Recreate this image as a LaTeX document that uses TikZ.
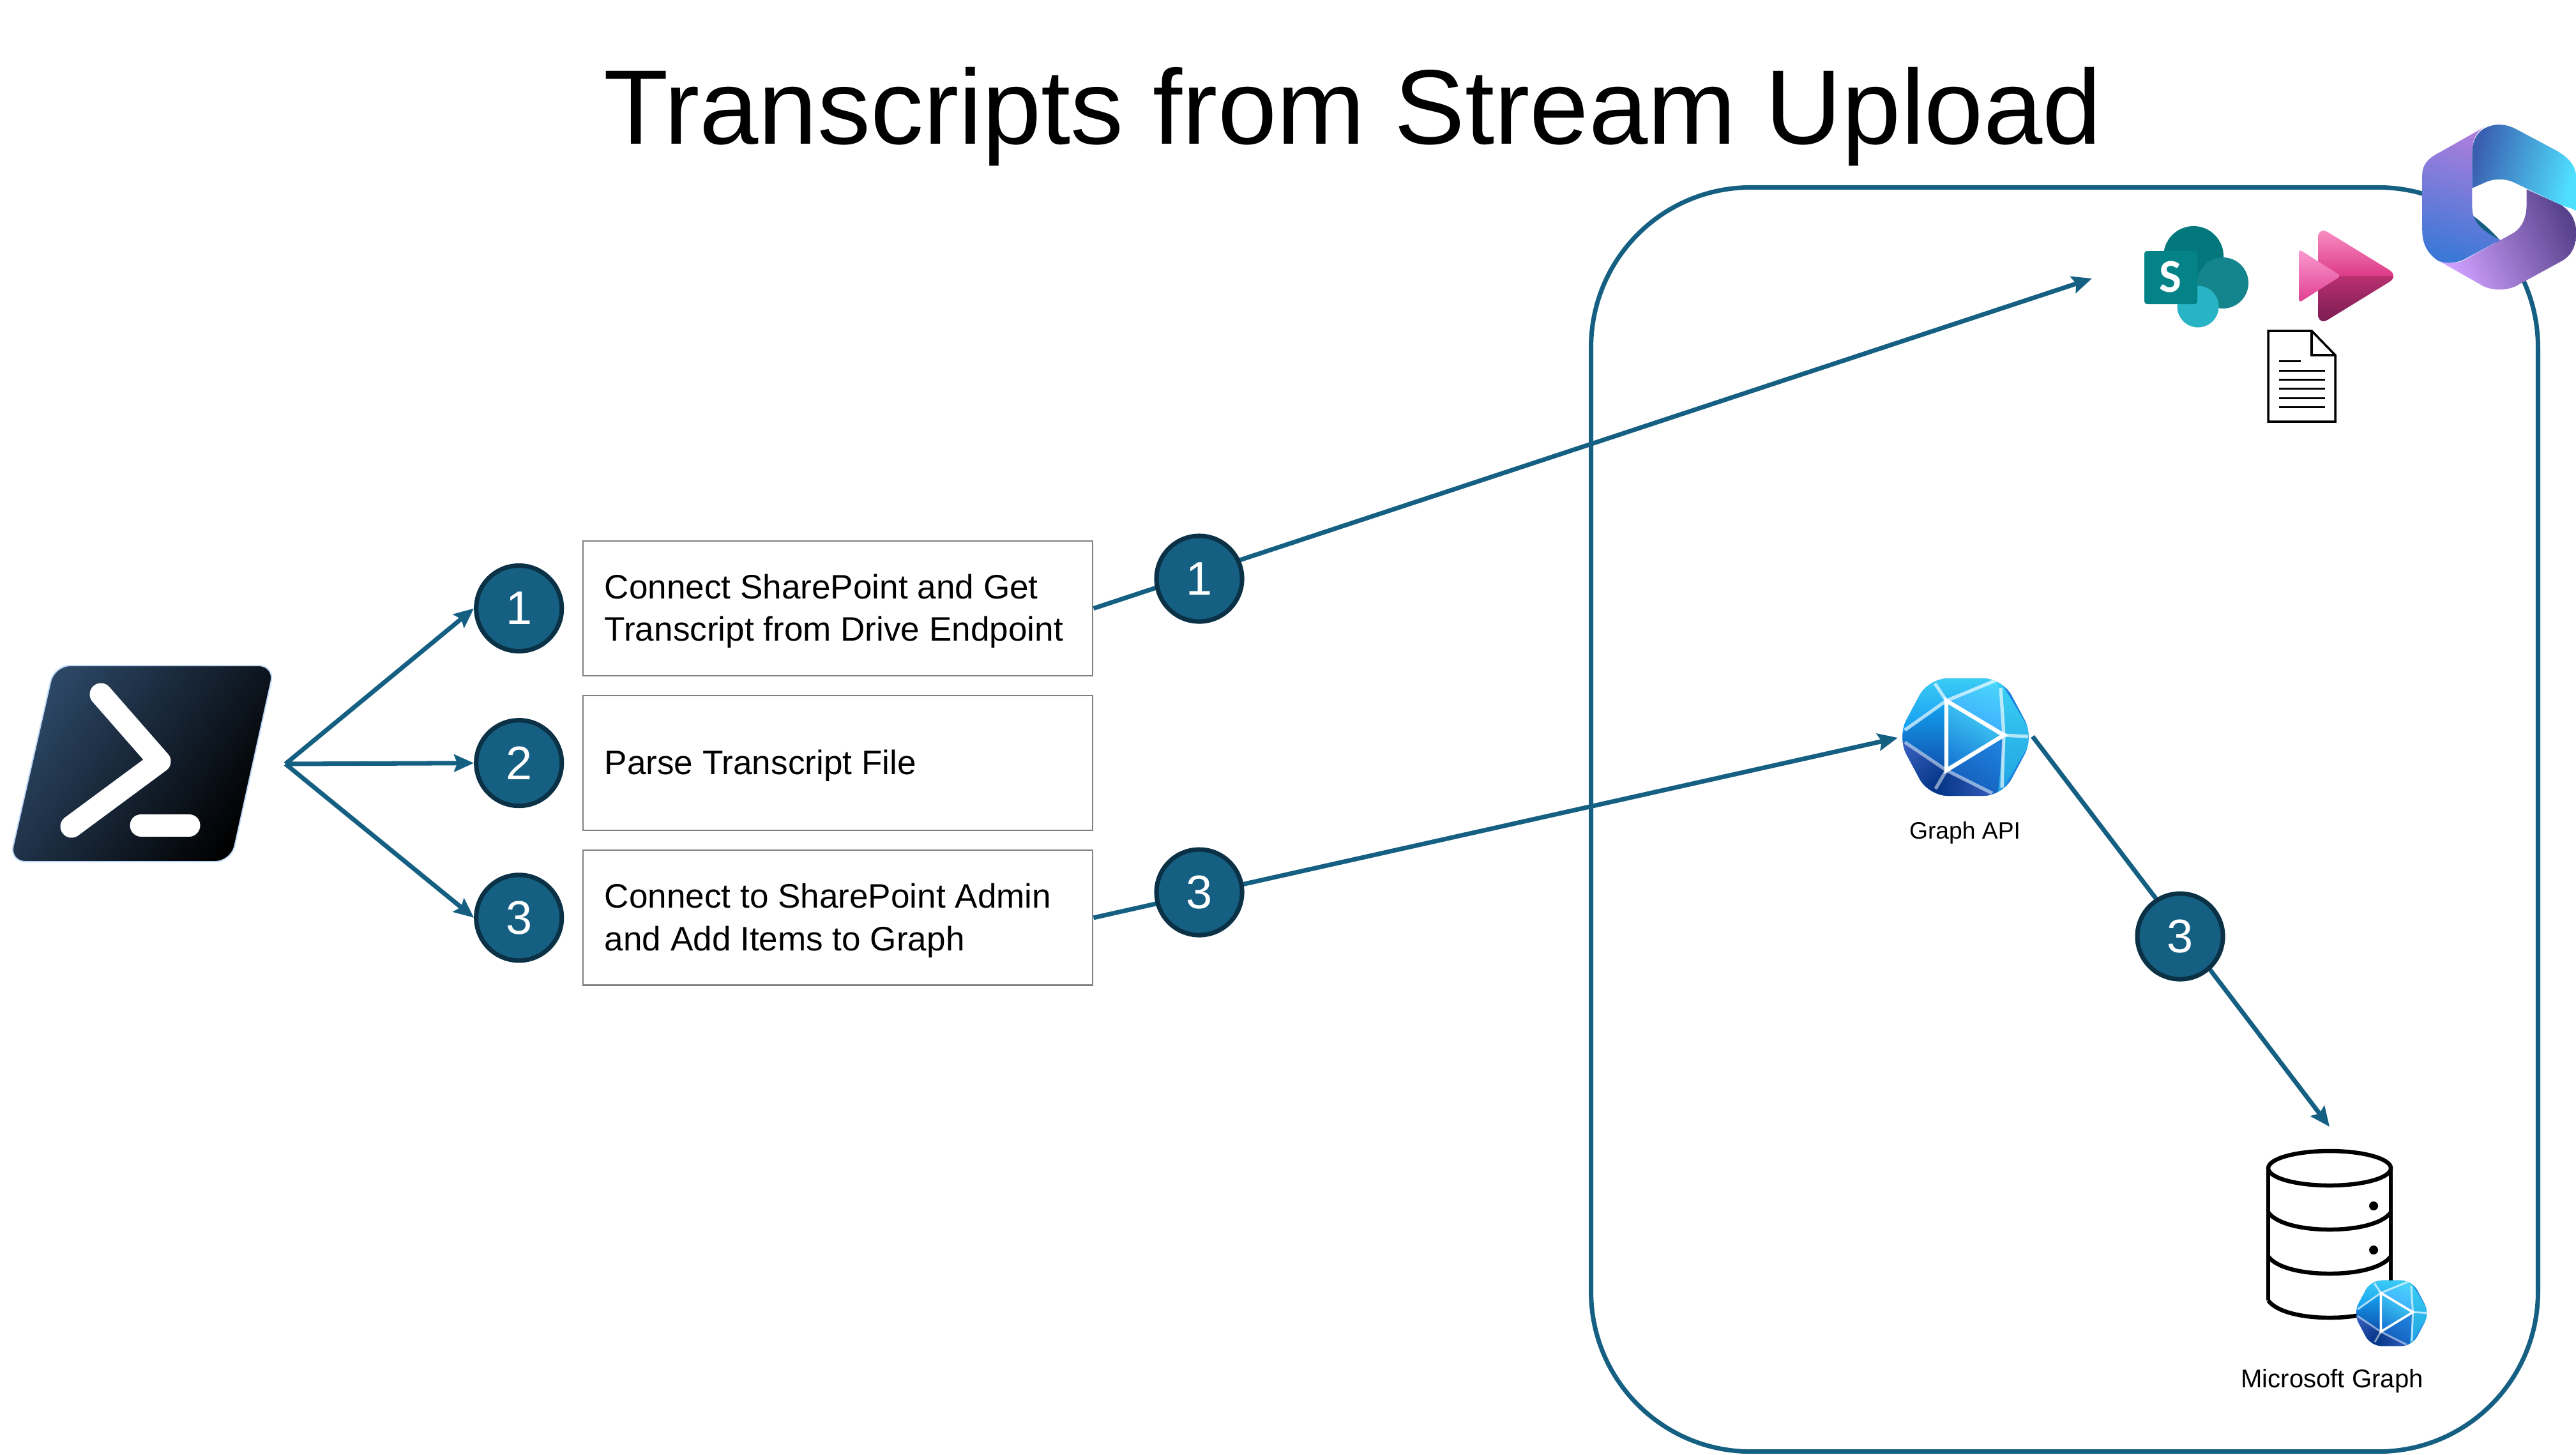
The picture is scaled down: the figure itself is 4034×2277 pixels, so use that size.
\documentclass[tikz,border=0pt]{standalone}
\usepackage{fontspec}
\setmainfont{Liberation Sans}
\newfontfamily\iconfont{Carlito}
\usepackage{tikz}
\usetikzlibrary{arrows.meta,positioning,shadings}
\definecolor{lineT}{HTML}{156082}
\definecolor{ringT}{HTML}{0A3145}
\tikzstyle{recNode} = [rectangle, minimum width=7.98cm, minimum height=2.11cm, inner xsep=0.34cm, text width=7.3cm, text height=0.47cm, align=flush left, draw=black!50, line width=0.7pt, font=\fontsize{15.1}{19}\selectfont]
\tikzstyle{numNode} = [circle, minimum size=1.34cm, inner sep=0pt, fill=lineT, draw=ringT, line width=2pt, text=white, font=\fontsize{21}{21}\selectfont]
\tikzstyle{arrowT} = [line width=2pt, draw=lineT, -{Stealth[length=0.31cm,width=0.27cm,inset=0.05cm]}]
\tikzstyle{lblNode} = [font=\fontsize{10.6}{12}\selectfont]
\newcommand{\graphicon}[3]{
  \begin{scope}[shift={(#1,#2)},scale=#3]
    \begin{scope}
      \clip[rounded corners=#3*0.3cm] (-58,-92) -- (58,-92) -- (107,0) -- (58,92) -- (-58,92) -- (-107,0) -- cycle;
      \fill[color={rgb,255:red,30;green,130;blue,220}] (-110,-100) rectangle (110,100);
      \shade[top color={rgb,255:red,70;green,215;blue,250}, bottom color={rgb,255:red,25;green,125;blue,215}, shading angle=-30] (-30,-57) -- (60,-3) -- (-30,52) -- cycle;
      \shade[top color={rgb,255:red,20;green,165;blue,240}, bottom color={rgb,255:red,15;green,80;blue,175}] (-107,0) -- (-30,-57) -- (-30,52) -- cycle;
      \shade[top color={rgb,255:red,75;green,215;blue,250}, bottom color={rgb,255:red,60;green,165;blue,255}, shading angle=-20] (-30,-57) -- (50,-95) -- (60,-3) -- cycle;
      \shade[top color={rgb,255:red,60;green,205;blue,245}, bottom color={rgb,255:red,15;green,150;blue,240}] (50,-95) -- (-30,-57) -- (-107,0) -- (-60,-95) -- cycle;
      \shade[top color={rgb,255:red,30;green,130;blue,220}, bottom color={rgb,255:red,20;green,90;blue,185}, shading angle=-30] (60,-3) -- (-30,52) -- (50,95) -- cycle;
      \shade[top color={rgb,255:red,55;green,95;blue,190}, bottom color={rgb,255:red,0;green,50;blue,130}, shading angle=40] (-107,0) -- (-30,52) -- (-50,95) -- (-70,95) -- cycle;
      \shade[left color={rgb,255:red,0;green,50;blue,130}, right color={rgb,255:red,55;green,95;blue,190}] (-30,52) -- (50,95) -- (-50,95) -- cycle;
      \shade[top color={rgb,255:red,60;green,210;blue,245}, bottom color={rgb,255:red,30;green,160;blue,225}] (60,-3) -- (50,-95) -- (107,0) -- (50,95) -- cycle;
      \draw[white, line width=#3*1.8pt] (-30,-57) -- (60,-3) -- (-30,52) -- cycle;
      \draw[white, opacity=.65, line width=#3*1.5pt] (-30,-57) -- (-48,-84) (-30,-57) -- (48,-89) (-30,-57) -- (-95,-11);
      \draw[white, opacity=.65, line width=#3*1.5pt] (60,-3) -- (55,-77) (60,-3) -- (98,-1) (60,-3) -- (57,79);
      \draw[white, opacity=.5, line width=#3*1.5pt] (-30,52) -- (-95,8) (-30,52) -- (-47,81) (-30,52) -- (42,88);
    \end{scope}
  \end{scope}
}
\begin{document}
\begin{tikzpicture}[x=0.01cm,y=-0.01cm,node distance=2.42cm]
    \useasboundingbox (0,0) rectangle (4034,2277);

    \node (title) at (2118,183) {\fontsize{47.2}{50}\selectfont Transcripts from Stream Upload};
    \node (tenant) [rectangle, draw=lineT, line width=2pt, rounded corners=2.5cm, minimum width=14.82cm, minimum height=19.78cm, inner sep=0pt] at (3233,1283) {};

    % powershell
    \shadedraw[rounded corners=0.25cm, draw={rgb,255:red,190;green,215;blue,245}, line width=0.02cm, left color={rgb,255:red,44;green,71;blue,102}, middle color={rgb,255:red,18;green,30;blue,44}, right color=black, shading angle=55] (85,1042) -- (430,1042) -- (362,1349) -- (15,1349) -- cycle;
    \draw[white, line width=0.35cm, line cap=round, line join=round] (158,1087) -- (250,1192) -- (112,1294);
    \draw[white, line width=0.35cm, line cap=round] (221,1292) -- (296,1292);

    \node (boxOne) [recNode] at (1312,952.5) {Connect SharePoint and Get\\Transcript from Drive Endpoint};
    \node (boxTwo) [recNode, below of=boxOne] {Parse Transcript File};
    \node (boxThree) [recNode, below of=boxTwo] {Connect to SharePoint Admin\\and Add Items to Graph};

    \node (numOne) [numNode, left of=boxOne, xshift=-2.57cm] {1};
    \node (numTwo) [numNode, left of=boxTwo, xshift=-2.57cm] {2};
    \node (numThree) [numNode, left of=boxThree, xshift=-2.57cm] {3};

    \coordinate (fan) at (447,1196);
    \coordinate (spIn) at (3276,436);
    \coordinate (apiIn) at (2972,1155);
    \coordinate (apiOut) at (3183,1153);
    \coordinate (dbIn) at (3648,1764);

    \draw [arrowT] (fan) -- (numOne.west);
    \draw [arrowT] (fan) -- (numTwo.west);
    \draw [arrowT] (fan) -- (numThree.west);
    \draw [arrowT] (boxOne.east) -- (spIn);
    \draw [arrowT] (boxThree.east) -- (apiIn);
    \draw [arrowT] (apiOut) -- (dbIn);

    \node (numOneB) [numNode] at (1878,906) {1};
    \node (numThreeB) [numNode] at (1878,1397) {3};
    \node (numThreeC) [numNode] at (3414,1466) {3};

    % sharepoint
    \fill[color={rgb,255:red,3;green,120;blue,124}] (3435,401) circle[radius=47];
    \fill[color={rgb,255:red,20;green,133;blue,140}] (3481,443) circle[radius=40];
    \fill[color={rgb,255:red,40;green,180;blue,196}] (3442,480) circle[radius=32.5];
    \fill[color={rgb,255:red,3;green,131;blue,135}, rounded corners=0.04cm] (3358,393) rectangle (3441,476);
    \node (spLetter) [text=white, font=\iconfont\fontsize{21}{21}\bfseries\selectfont] at (3399,434) {S};

    % stream
    \begin{scope}
      \clip[rounded corners=0.18cm] (3630,354) -- (3757,432) -- (3630,510) -- cycle;
      \shade[top color={rgb,255:red,250;green,150;blue,200}, bottom color={rgb,255:red,221;green,58;blue,136}] (3620,354) rectangle (3770,432);
      \shade[top color={rgb,255:red,184;green,48;blue,112}, bottom color={rgb,255:red,118;green,26;blue,80}] (3620,432) rectangle (3770,510);
    \end{scope}
    \shade[rounded corners=0.05cm, top color={rgb,255:red,250;green,155;blue,208}, bottom color={rgb,255:red,224;green,62;blue,145}] (3600,390) -- (3666,432) -- (3600,474) -- cycle;

    % document
    \draw[black, line width=0.035cm, fill=white] (3552,518) -- (3620,518) -- (3657,556) -- (3657,660) -- (3552,660) -- cycle;
    \draw[black, line width=0.035cm] (3620,518) -- (3620,556) -- (3657,556);
    \draw[black, line width=0.03cm] (3569,565) -- (3603,565);
    \foreach \ypos in {580,594,608.6,623,637} {
      \draw[black, line width=0.03cm] (3569,\ypos) -- (3641,\ypos);
    }

    % copilot
    \begin{scope}[shift={(3200,150)},xscale=.532,yscale=.357]
      \shade[top color={rgb,255:red,172;green,126;blue,220}, middle color={rgb,255:red,128;green,125;blue,222}, bottom color={rgb,255:red,60;green,120;blue,215}, shading angle=-15] (1300,135) .. controls (1270,160) and (1262,200) .. (1262,250) -- (1262,490) .. controls (1262,550) and (1290,595) .. (1345,632) -- (1245,712) .. controls (1220,735) and (1180,740) .. (1160,722) .. controls (1130,690) and (1115,650) .. (1115,590) -- (1115,345) .. controls (1115,300) and (1135,270) .. (1170,245) -- cycle;
      \shade[left color={rgb,255:red,58;green,95;blue,176}, middle color={rgb,255:red,74;green,150;blue,226}, right color={rgb,255:red,80;green,224;blue,255}, shading angle=75] (1262,405) -- (1262,250) .. controls (1262,190) and (1280,150) .. (1310,135) .. controls (1335,120) and (1365,125) .. (1390,145) -- (1510,240) .. controls (1550,275) and (1568,310) .. (1568,360) -- (1568,505) .. controls (1555,490) and (1540,490) .. (1525,480) -- (1385,380) .. controls (1360,362) and (1325,362) .. (1300,380) -- cycle;
      \shade[left color={rgb,255:red,208;green,160;blue,255}, middle color={rgb,255:red,150;green,110;blue,200}, right color={rgb,255:red,88;green,66;blue,140}, shading angle=115] (1165,725) .. controls (1190,740) and (1225,735) .. (1245,715) -- (1385,600) .. controls (1410,575) and (1422,530) .. (1422,480) -- (1422,410) -- (1525,480) .. controls (1555,510) and (1568,550) .. (1568,600) .. controls (1568,660) and (1555,700) .. (1525,725) -- (1390,835) .. controls (1360,855) and (1325,855) .. (1295,835) -- cycle;
    \end{scope}

    \graphicon{3078}{1154}{1}
    \node (apiLabel) [lblNode] at (3077,1304) {Graph API};

    % database
    \draw[black, line width=0.065cm] (3648,1829) ellipse[x radius=96, y radius=27];
    \draw[black, line width=0.065cm] (3552,1829) -- (3552,2036);
    \draw[black, line width=0.065cm] (3744,1829) -- (3744,2036);
    \foreach \ypos in {1898,1967,2036} {
      \draw[black, line width=0.065cm] (3552,\ypos) .. controls (3565,\ypos+18) and (3605,\ypos+27) .. (3648,\ypos+27) .. controls (3691,\ypos+27) and (3731,\ypos+18) .. (3744,\ypos);
    }
    \fill[black] (3717,1888) circle[radius=7];
    \fill[black] (3717,1957) circle[radius=7];
    \graphicon{3745}{2056}{.558}
    \node (dbLabel) [lblNode, font=\fontsize{11.4}{12}\selectfont] at (3652,2162) {Microsoft Graph};
\end{tikzpicture}
\end{document}
